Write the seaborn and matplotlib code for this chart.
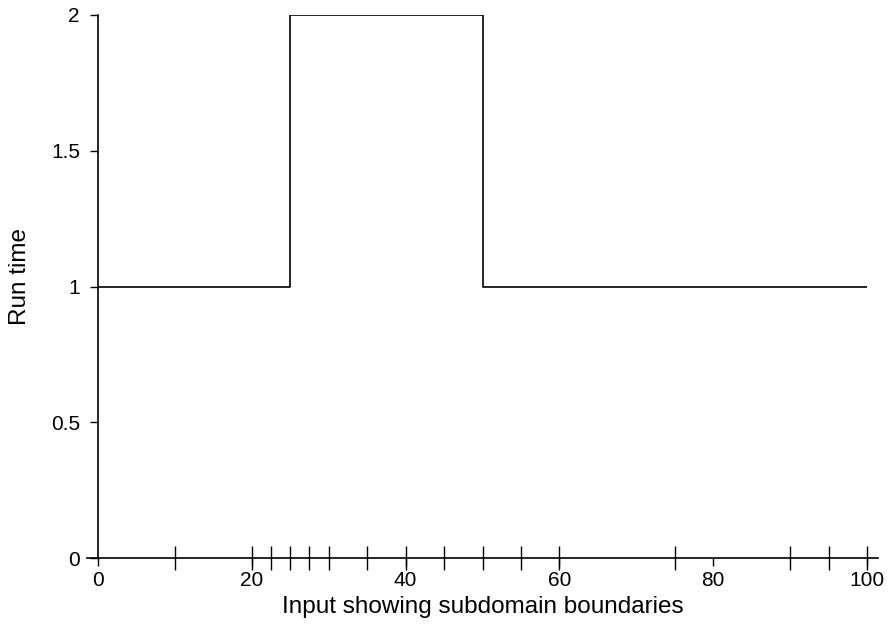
import matplotlib
matplotlib.use("Agg")
import matplotlib.pyplot as plt
import seaborn as sns
import pandas as pd
from matplotlib.ticker import FixedLocator

# Data
step_x = [0, 25, 50, 100]
run_time = [1, 2, 1, 1]
boundaries = [10, 20, 22.5, 25, 27.5, 30, 35, 40, 45, 50, 55, 60, 75, 90, 95, 100]
x_ticks = [0, 20, 40, 60, 80, 100]
y_ticks = [0, 0.5, 1, 1.5, 2]
y_tick_labels = ["0", "0.5", "1", "1.5", "2"]

sns.set_style("ticks")
plt.rcParams["font.family"] = ["Liberation Sans", "DejaVu Sans"]

fig = plt.figure(figsize=(8.94, 6.24), dpi=100)
ax = fig.add_axes([98/894, 66/624, (867-98)/894, (558-15)/624])

df = pd.DataFrame({"x": step_x, "y": run_time})
sns.lineplot(data=df, x="x", y="y", ax=ax, color="black", linewidth=1.2,
             drawstyle="steps-post", estimator=None, sort=False)

ax.set_xlim(0, 100)
ax.set_ylim(0, 2)

ax.set_xticks(x_ticks)
ax.set_xticklabels([str(t) for t in x_ticks])
ax.xaxis.set_minor_locator(FixedLocator(boundaries))
ax.xaxis.remove_overlapping_locs = False
ax.set_yticks(y_ticks)
ax.set_yticklabels(y_tick_labels)

ax.tick_params(axis="both", which="major", direction="out", length=5.5, width=1.0,
               color="black", labelsize=15, labelcolor="black")
ax.tick_params(axis="x", which="major", pad=3.5)
ax.tick_params(axis="y", which="major", pad=7.5)
ax.tick_params(axis="x", which="minor", direction="inout", length=17, width=1.0,
               color="black")

for side in ["top", "right"]:
    ax.spines[side].set_visible(False)
for side in ["left", "bottom"]:
    ax.spines[side].set_linewidth(1.2)
    ax.spines[side].set_color("black")
ax.spines["bottom"].set_bounds(-1.4, 101.4)

ax.set_xlabel("Input showing subdomain boundaries", fontsize=17.5, labelpad=5, color="black")
ax.set_ylabel("Run time", fontsize=17.5, labelpad=14.5, color="black")
ax.yaxis.label.set_y(0.519)

fig.savefig("out.png", dpi=100)
